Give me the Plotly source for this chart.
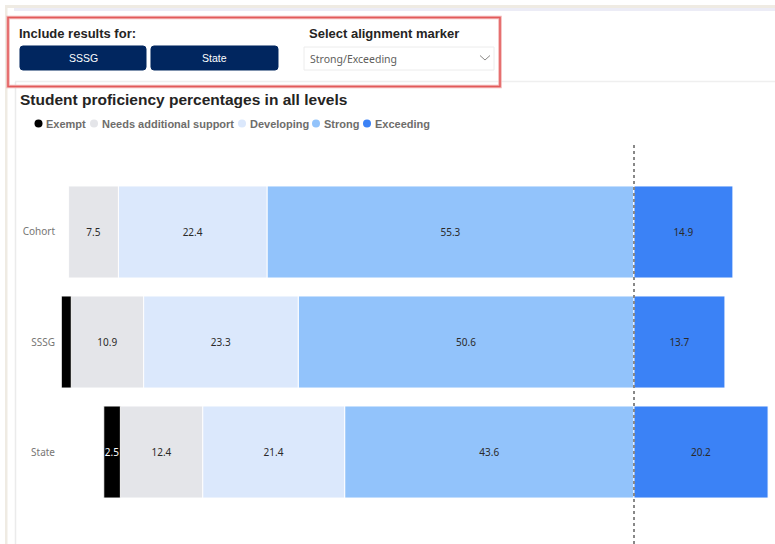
import plotly.graph_objects as go

# ---------------- data ----------------
groups = ["Cohort", "SSSG", "State"]
levels = ["Exempt", "Needs additional support", "Developing", "Strong", "Exceeding"]
exempt = [0.0, 1.5, 2.5]
needs = [7.5, 10.9, 12.4]
developing = [22.4, 23.3, 21.4]
strong = [55.3, 50.6, 43.6]
exceeding = [14.9, 13.7, 20.2]

colors = {
    "Exempt": "#000000",
    "Needs additional support": "#e4e5e9",
    "Developing": "#dbe8fc",
    "Strong": "#92c3fb",
    "Exceeding": "#3b82f6",
}

W, H = 775, 544
L, R, T, B = 58, 775, 142, 544
SCALE = 6.636  # px per percentage point
ZERO_PX = 634


def px(x):
    return (x - L) / (R - L)


def py(y):
    return (B - y) / (B - T)


def fmt(v, minv=2.0):
    return f"{v:.1f}" if v >= minv else ""


fig = go.Figure()

# left of the alignment marker (stacked negative, from the marker outwards)
left_series = [("Strong", strong), ("Developing", developing),
               ("Needs additional support", needs), ("Exempt", exempt)]
for name, vals in left_series:
    fig.add_trace(go.Bar(
        y=groups, x=[-v for v in vals], orientation="h", name=name,
        marker=dict(color=colors[name], line=dict(color="rgba(255,255,255,0.9)", width=1)),
        text=[fmt(v) for v in vals], textposition="inside", insidetextanchor="middle",
        textangle=0, constraintext="none",
        textfont=dict(family="Noto Sans, Open Sans, sans-serif", size=10,
                      color="#ffffff" if name == "Exempt" else "#2b2a29"),
        showlegend=False, hoverinfo="skip",
    ))
fig.add_trace(go.Bar(
    y=groups, x=exceeding, orientation="h", name="Exceeding",
    marker=dict(color=colors["Exceeding"], line=dict(color="rgba(255,255,255,0.9)", width=1)),
    text=[fmt(v) for v in exceeding], textposition="inside", insidetextanchor="middle",
    textangle=0, constraintext="none",
    textfont=dict(family="Noto Sans, Open Sans, sans-serif", size=10, color="#2b2a29"),
    showlegend=False, hoverinfo="skip",
))

xmin = -(ZERO_PX - L) / SCALE
xmax = (R - ZERO_PX) / SCALE
fig.update_layout(
    width=W, height=H, margin=dict(l=L, r=W - R, t=T, b=H - B),
    paper_bgcolor="white", plot_bgcolor="white",
    barmode="relative", bargap=0.164,
    xaxis=dict(range=[xmin, xmax], visible=False, fixedrange=True),
    yaxis=dict(range=[2.836, -0.818], showgrid=False, zeroline=False, showline=False,
               ticks="", ticklabelstandoff=2,
               tickfont=dict(family="Noto Sans, Open Sans, sans-serif", size=10, color="#777674")),
    showlegend=False,
)

shapes = []
annos = []

# page decorations
shapes.append(dict(type="rect", xref="paper", yref="paper", x0=px(5), x1=px(7.5), y0=py(544), y1=py(6),
                   fillcolor="#efebe3", line=dict(width=0), layer="below"))
shapes.append(dict(type="rect", xref="paper", yref="paper", x0=px(5), x1=px(775), y0=py(8), y1=py(5),
                   fillcolor="#efebe3", line=dict(width=0), layer="below"))
shapes.append(dict(type="rect", xref="paper", yref="paper", x0=px(14), x1=px(775), y0=py(11), y1=py(8),
                   fillcolor="#ececf6", line=dict(width=0), layer="below"))
shapes.append(dict(type="line", xref="paper", yref="paper", x0=px(15.5), x1=px(15.5), y0=py(544), y1=py(82),
                   line=dict(color="#ebebeb", width=1.5)))
shapes.append(dict(type="line", xref="paper", yref="paper", x0=px(15), x1=px(775), y0=py(81.5), y1=py(81.5),
                   line=dict(color="#efefef", width=1.5)))

# red highlight frame
shapes.append(dict(type="rect", xref="paper", yref="paper", x0=px(8), x1=px(500), y0=py(86.5), y1=py(17.5),
                   line=dict(color="#f2b5b5", width=3.5), fillcolor="rgba(0,0,0,0)"))
shapes.append(dict(type="rect", xref="paper", yref="paper", x0=px(8), x1=px(500), y0=py(86.5), y1=py(17.5),
                   line=dict(color="#e25a5a", width=1.5), fillcolor="rgba(0,0,0,0)"))


def rrect(x0, y0, x1, y1, r):
    X = lambda v: f"{px(v):.6f}"
    Y = lambda v: f"{py(v):.6f}"
    return (f"M {X(x0 + r)} {Y(y0)} L {X(x1 - r)} {Y(y0)} Q {X(x1)} {Y(y0)} {X(x1)} {Y(y0 + r)} "
            f"L {X(x1)} {Y(y1 - r)} Q {X(x1)} {Y(y1)} {X(x1 - r)} {Y(y1)} "
            f"L {X(x0 + r)} {Y(y1)} Q {X(x0)} {Y(y1)} {X(x0)} {Y(y1 - r)} "
            f"L {X(x0)} {Y(y0 + r)} Q {X(x0)} {Y(y0)} {X(x0 + r)} {Y(y0)} Z")


hdr_font = dict(family="Liberation Sans, Arial, sans-serif", size=13, color="#252423")
annos.append(dict(text="<b>Include results for:</b>", x=px(17), y=py(33), xref="paper", yref="paper",
                  xanchor="left", yanchor="middle", showarrow=False, font=hdr_font))
annos.append(dict(text="<b>Select alignment marker</b>", x=px(307), y=py(33), xref="paper", yref="paper",
                  xanchor="left", yanchor="middle", showarrow=False, font=hdr_font))

buttons = [("SSSG", 20, 146), ("State", 151, 278)]
for label, bx0, bx1 in buttons:
    shapes.append(dict(type="path", xref="paper", yref="paper", path=rrect(bx0, 46, bx1, 70, 3),
                       fillcolor="#01265f", line=dict(color="#01265f", width=1)))
    annos.append(dict(text=label, x=px((bx0 + bx1) / 2), y=py(58), xref="paper", yref="paper",
                      xanchor="center", yanchor="middle", showarrow=False,
                      font=dict(family="Liberation Sans, Arial, sans-serif", size=10.5, color="white")))

# dropdown
shapes.append(dict(type="rect", xref="paper", yref="paper", x0=px(304), x1=px(494), y0=py(70), y1=py(47),
                   fillcolor="white", line=dict(color="#ececec", width=1)))
annos.append(dict(text="Strong/Exceeding", x=px(308), y=py(59), xref="paper", yref="paper",
                  xanchor="left", yanchor="middle", showarrow=False,
                  font=dict(family="Noto Sans, Open Sans, sans-serif", size=10.5, color="#605e5c")))
chev = f"M {px(480):.6f} {py(55.5):.6f} L {px(485):.6f} {py(60):.6f} L {px(490):.6f} {py(55.5):.6f}"
shapes.append(dict(type="path", xref="paper", yref="paper", path=chev, line=dict(color="#8a8886", width=1)))

# chart title
annos.append(dict(text="<b>Student proficiency percentages in all levels</b>", x=px(18), y=py(99),
                  xref="paper", yref="paper", xanchor="left", yanchor="middle", showarrow=False,
                  font=dict(family="Liberation Sans, Arial, sans-serif", size=15.5, color="#252423")))

# legend (circle markers + bold labels)
legend_x = {"Exempt": 38.5, "Needs additional support": 94, "Developing": 242, "Strong": 316, "Exceeding": 367}
for name in levels:
    cx, cy = legend_x[name], 123.5
    shapes.append(dict(type="circle", xref="paper", yref="paper", x0=px(cx - 4), x1=px(cx + 4),
                       y0=py(cy + 4), y1=py(cy - 4), fillcolor=colors[name], line=dict(width=0)))
    annos.append(dict(text=f"<b>{name}</b>", x=px(cx + 5.5), y=py(cy), xref="paper", yref="paper",
                      xanchor="left", yanchor="middle", showarrow=False,
                      font=dict(family="Liberation Sans, Arial, sans-serif", size=11, color="#6e6d6b")))

# alignment marker line (Strong/Exceeding boundary)
shapes.append(dict(type="line", xref="x", yref="paper", x0=0, x1=0, y0=0, y1=1,
                   line=dict(color="#888888", width=2, dash="3px,3px"), layer="above"))

fig.update_layout(shapes=shapes, annotations=annos)
fig.write_html("out.html")
